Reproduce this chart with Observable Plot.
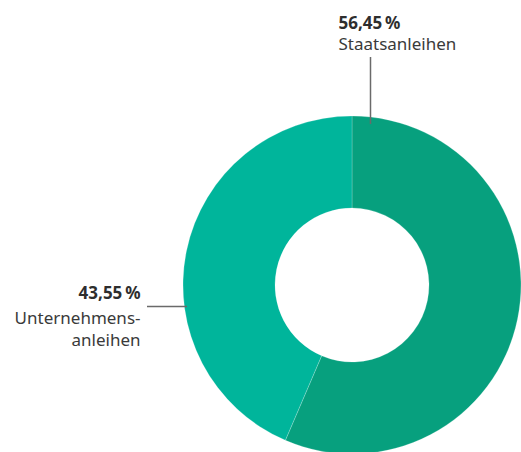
<!DOCTYPE html>
<html>
<head>
<meta charset="utf-8">
<script src="https://cdn.jsdelivr.net/npm/d3@7"></script>
<script src="https://cdn.jsdelivr.net/npm/@observablehq/plot@0.6"></script>
<style>
  html, body { margin: 0; padding: 0; background: #fff; }
  #chart svg { display: block; }
</style>
</head>
<body>
<div id="chart"></div>
<script>
const categories = ["Staatsanleihen", "Unternehmensanleihen"];
const shares = [56.45, 43.55];
const pctLabels = ["56,45\u202F%", "43,55\u202F%"];
const nameLabels = ["Staatsanleihen", "Unternehmens-\nanleihen"];
const colors = ["#07a07e", "#00b59b"];

const W = 521, H = 452;
const cx = 352, cy = 285, R = 169, r0 = 77;

const slices = d3.pie().sort(null).value(d => d.share)(
  categories.map((c, i) => ({category: c, share: shares[i], color: colors[i]}))
);

function donut(index, scales, values, dimensions, context) {
  const sx = scales.x, sy = scales.y;
  const X = sx(cx), Y = sy(cy);
  const rad = sx(cx + R) - sx(cx), inner = sx(cx + r0) - sx(cx);
  const arc = d3.arc().innerRadius(inner).outerRadius(rad);
  const g = d3.create("svg:g").attr("transform", `translate(${X},${Y})`);
  g.selectAll("path").data(slices).join("path")
    .attr("d", arc)
    .attr("fill", d => d.data.color)
    .attr("stroke", "#ffffff")
    .attr("stroke-opacity", 0.35)
    .attr("stroke-width", 0.6);
  return g.node();
}

const labelFont = "'Noto Sans', sans-serif";

const plot = Plot.plot({
  width: W,
  height: H,
  margin: 0,
  style: {fontFamily: labelFont, background: "#fff", overflow: "hidden"},
  x: {domain: [0, W], range: [0, W], axis: null},
  y: {domain: [0, H], range: [0, H], axis: null},
  marks: [
    donut,
    Plot.ruleX([370], {y1: 57, y2: 124, stroke: "#6a6a6a", strokeWidth: 1.5}),
    Plot.ruleY([306], {x1: 147, x2: 187, stroke: "#6a6a6a", strokeWidth: 1.5}),
    Plot.text([pctLabels[0]], {x: 338, y: 23, text: d => d, textAnchor: "start", lineAnchor: "middle", fontSize: 17, fontWeight: "bold", fill: "#2e2e2e"}),
    Plot.text([nameLabels[0]], {x: 338, y: 44.5, text: d => d, textAnchor: "start", lineAnchor: "middle", fontSize: 17, fill: "#3a3a3a"}),
    Plot.text([pctLabels[1]], {x: 140, y: 293.5, text: d => d, textAnchor: "end", lineAnchor: "middle", fontSize: 17, fontWeight: "bold", fill: "#2e2e2e"}),
    Plot.text([nameLabels[1]], {x: 140, y: 307.8, text: d => d, textAnchor: "end", lineAnchor: "top", lineHeight: 1.3, fontSize: 17, fill: "#3a3a3a"})
  ]
});
document.getElementById("chart").appendChild(plot);
</script>
</body>
</html>
